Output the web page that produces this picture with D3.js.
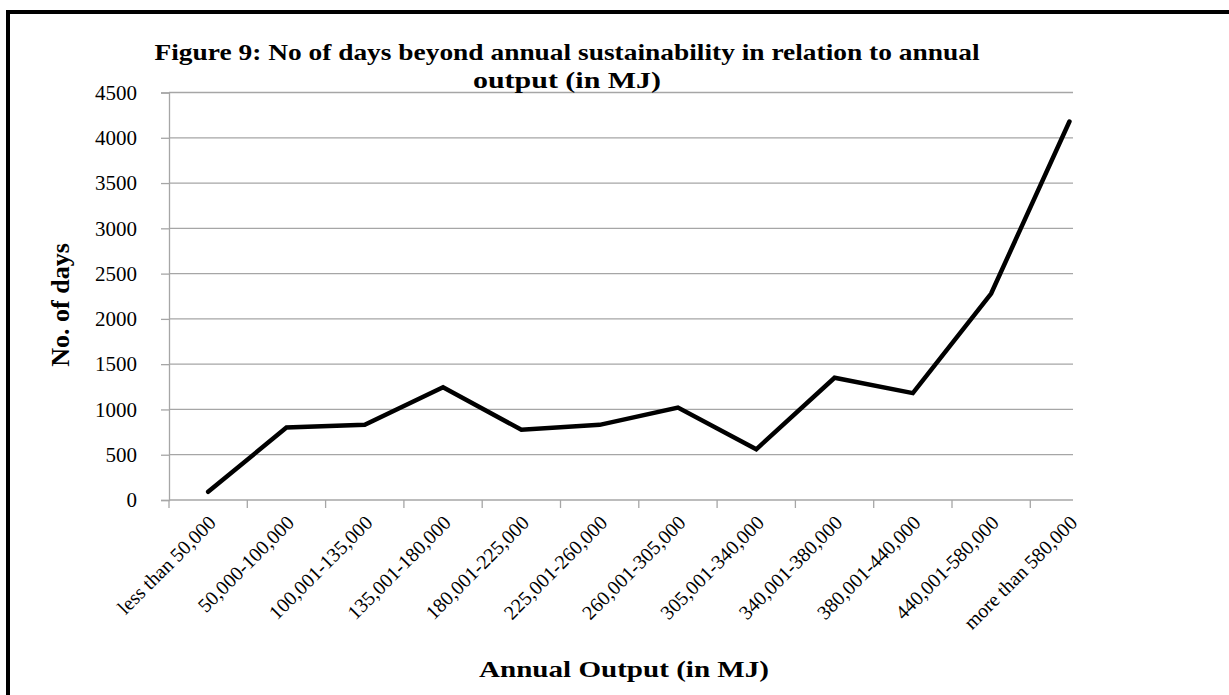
<!DOCTYPE html>
<html>
<head>
<meta charset="utf-8">
<script src="https://cdn.jsdelivr.net/npm/d3@7"></script>
<style>
  html, body { margin: 0; padding: 0; background: #fff; }
  svg { display: block; }
</style>
</head>
<body>
<svg id="chart" width="1229" height="695"></svg>
<script>
const categories = [
  "less than 50,000", "50,000-100,000", "100,001-135,000", "135,001-180,000",
  "180,001-225,000", "225,001-260,000", "260,001-305,000", "305,001-340,000",
  "340,001-380,000", "380,001-440,000", "440,001-580,000", "more than 580,000"
];
const days = [90, 800, 830, 1245, 775, 830, 1020, 560, 1350, 1180, 2280, 4180];
const yTicks = [0, 500, 1000, 1500, 2000, 2500, 3000, 3500, 4000, 4500];
const titleLines = ["Figure 9: No of days beyond annual sustainability in relation to annual", "output (in MJ)"];
const xTitle = "Annual Output (in MJ)";
const yTitle = "No. of days";

(function () {
const svg = d3.select("#chart");
const plotLeft = 169, plotTop = 92.5, plotBottom = 500, gridRight = 1073, band = 78.3;
const serif = "'Liberation Serif', 'Times New Roman', serif";

// frame (top and left edges visible)
svg.append("line").attr("x1", 8).attr("x2", 1229).attr("y1", 12).attr("y2", 12)
  .attr("stroke", "#000").attr("stroke-width", 4);
svg.append("line").attr("x1", 8).attr("x2", 8).attr("y1", 10).attr("y2", 695)
  .attr("stroke", "#000").attr("stroke-width", 4);

const x = d3.scaleBand().domain(categories).range([plotLeft, plotLeft + band * categories.length]).padding(0);
const y = d3.scaleLinear().domain([0, 4500]).range([plotBottom, plotTop]);

// gridlines
svg.append("g").selectAll("line").data(yTicks.filter(d => d > 0)).join("line")
  .attr("x1", plotLeft).attr("x2", gridRight)
  .attr("y1", d => y(d)).attr("y2", d => y(d))
  .attr("stroke", "#a6a6a6").attr("stroke-width", 1.3);

// y axis
const yAxis = svg.append("g").attr("transform", `translate(${plotLeft},0)`)
  .call(d3.axisLeft(y).tickValues(yTicks).tickSize(8).tickPadding(24).tickFormat(d3.format("d")));
yAxis.select(".domain").attr("stroke", "#a6a6a6").attr("stroke-width", 1.3);
yAxis.selectAll(".tick line").attr("stroke", "#a6a6a6").attr("stroke-width", 1.3);
yAxis.selectAll("text").attr("font-family", serif).attr("font-size", 21).attr("fill", "#000");

// x axis baseline + ticks at band boundaries
svg.append("line").attr("x1", plotLeft).attr("x2", gridRight).attr("y1", y(0)).attr("y2", y(0))
  .attr("stroke", "#a6a6a6").attr("stroke-width", 1.3);
svg.append("g").selectAll("line").data(categories).join("line")
  .attr("x1", d => x(d)).attr("x2", d => x(d))
  .attr("y1", y(0)).attr("y2", y(0) + 8)
  .attr("stroke", "#a6a6a6").attr("stroke-width", 1.3);

// x labels
svg.append("g").selectAll("text").data(categories).join("text")
  .attr("transform", d => `translate(${x(d) + x.bandwidth() / 2 + 9},${y(0) + 24}) rotate(-45)`)
  .attr("text-anchor", "end")
  .attr("font-family", serif).attr("font-size", 20).attr("fill", "#000")
  .text(d => d);

// line
const line = d3.line().x((d, i) => x(categories[i]) + x.bandwidth() / 2).y(d => y(d));
svg.append("path").datum(days).attr("d", line)
  .attr("fill", "none").attr("stroke", "#000").attr("stroke-width", 4.5)
  .attr("stroke-linejoin", "miter").attr("stroke-linecap", "round");

// title (horizontally widened like the reference)
const titleWidths = [825, 188];
svg.append("g").selectAll("text").data(titleLines).join("text")
  .attr("x", 567).attr("y", (d, i) => 60 + i * 28).attr("text-anchor", "middle")
  .attr("font-family", serif).attr("font-size", 24).attr("font-weight", "bold")
  .attr("textLength", (d, i) => titleWidths[i]).attr("lengthAdjust", "spacingAndGlyphs")
  .text(d => d);

// axis titles
svg.append("text").attr("x", 624).attr("y", 677).attr("text-anchor", "middle")
  .attr("font-family", serif).attr("font-size", 24).attr("font-weight", "bold")
  .attr("textLength", 290).attr("lengthAdjust", "spacingAndGlyphs").text(xTitle);
svg.append("text").attr("transform", "translate(69,305) rotate(-90)").attr("text-anchor", "middle")
  .attr("font-family", serif).attr("font-size", 26).attr("font-weight", "bold").text(yTitle);
})();
</script>
</body>
</html>
